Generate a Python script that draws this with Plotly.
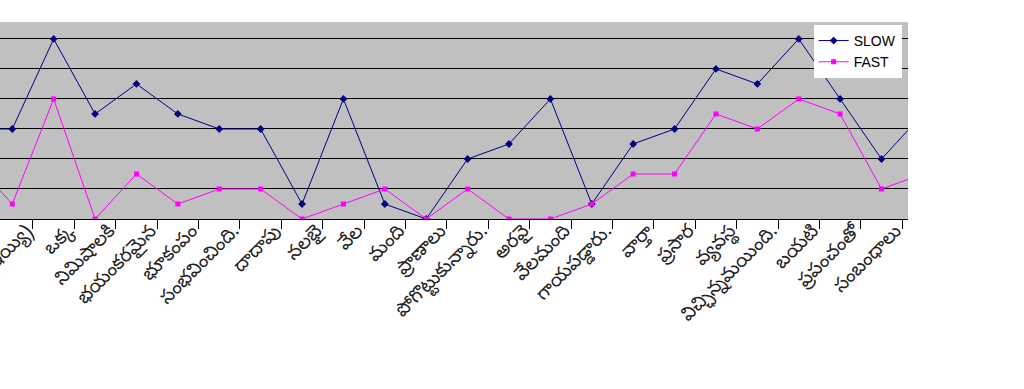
import plotly.graph_objects as go

categories = ["ముందు", "(ఇయ్యి)", "ఒక్క", "నిమిషాలకి", "భయంకరమైన", "భూకంపం",
              "సంభవించింది.", "దాదాపు", "నలభై", "వేల", "మంది", "ప్రాణాలు",
              "పోగొట్టుకున్నారు.", "అరవై", "వేలమంది", "గాయపడ్డారు.", "వార్తా",
              "ప్రసార", "వ్యవస్థ", "విచ్ఛిన్నమయింది.", "బయటి", "ప్రపంచంతో",
              "సంబంధాలు", "తెగిపోయాయి."]
slow = [6, 6, 12, 7, 9, 7, 6, 6, 1, 8, 1, 0, 4, 5, 8, 1, 5, 6, 10, 9, 12, 8, 4, 7]
fast = [4, 1, 8, 0, 3, 1, 2, 2, 0, 1, 2, 0, 2, 0, 0, 1, 3, 3, 7, 6, 8, 7, 2, 3]

fig = go.Figure()
fig.add_trace(go.Scatter(x=categories, y=slow, name="SLOW", mode="lines+markers",
                         line=dict(color="#000080", width=1),
                         marker=dict(symbol="diamond", size=6, color="#000080")))
fig.add_trace(go.Scatter(x=categories, y=fast, name="FAST", mode="lines+markers",
                         line=dict(color="#FF00FF", width=1),
                         marker=dict(symbol="square", size=5, color="#FF00FF")))

fig.update_layout(
    width=1024, height=389,
    margin=dict(l=0, r=116, t=22, b=170, autoexpand=False),
    paper_bgcolor="white", plot_bgcolor="#c0c0c0",
    showlegend=True,
    legend=dict(x=0.993, y=0.985, xanchor="right", yanchor="top",
                bgcolor="white", borderwidth=0,
                font=dict(family="Liberation Sans, Arial", size=14, color="black"),
                tracegroupgap=0, itemwidth=30),
    font=dict(family="Noto Sans Telugu, Noto Sans, sans-serif", color="black"),
)
fig.update_xaxes(type="category", categoryorder="array", categoryarray=categories,
                 range=[0.703, 22.64], showgrid=False, showline=True, automargin=False,
                 linecolor="black", linewidth=1, ticks="outside", tickson="boundaries",
                 ticklen=9, tickcolor="black", tickangle=-45, ticklabelshift=14,
                 ticklabelstandoff=-8,
                 tickfont=dict(size=19, color="#222222"), zeroline=False)
fig.update_yaxes(range=[0, 13.13], dtick=2, showgrid=True, gridcolor="black", automargin=False,
                 gridwidth=1, showticklabels=False, zeroline=False, showline=False)

fig.write_html("out.html", config={"displayModeBar": False},
               post_script="document.body.style.margin='0';document.body.style.padding='0';")
